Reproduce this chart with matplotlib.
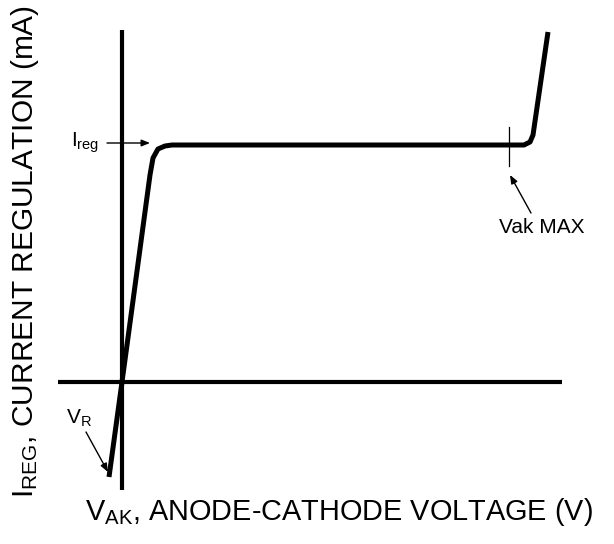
import matplotlib
matplotlib.use("Agg")
import matplotlib.pyplot as plt

plt.rcParams['font.family'] = ['Liberation Sans', 'DejaVu Sans']
plt.rcParams['mathtext.fontset'] = 'custom'
plt.rcParams['mathtext.rm'] = 'Liberation Sans'
plt.rcParams['mathtext.it'] = 'Liberation Sans'

# Characteristic curve (V_AK, I_REG) in arbitrary units
v_curve = [-1.3, 0.0, 2.8, 3.1, 3.6, 4.3, 5.0, 40.2, 40.8, 41.1, 42.6]
i_curve = [-9.5, 0.0, 20.7, 22.4, 23.3, 23.6, 23.7, 23.7, 24.0, 24.7, 35.0]

# Axis extents
v_axis = [-6.4, 44.0]
i_axis = [-10.8, 35.2]

# Markers / annotations
vak_max = 38.7
i_reg = 23.9
v_r = -1.4

fig = plt.figure(figsize=(6.14, 5.44), dpi=100)
ax = fig.add_axes([0, 0, 1, 1])
ax.set_xlim(-12.2, 49.2)
ax.set_ylim(-16.2, 38.2)
ax.axis('off')

# axes lines
ax.plot(v_axis, [0, 0], color='black', lw=3.0, solid_capstyle='butt')
ax.plot([0, 0], i_axis, color='black', lw=3.0, solid_capstyle='butt')

# curve
ax.plot(v_curve, i_curve, color='black', lw=3.6, solid_joinstyle='round',
        solid_capstyle='butt')

# Vak MAX tick
ax.plot([vak_max, vak_max], [21.6, 25.5], color='black', lw=0.9)

arrow = dict(arrowstyle='-|>,head_length=0.5,head_width=0.2', color='black', lw=1.0,
             shrinkA=0, shrinkB=0)

# I_reg label
ax.annotate('', xy=(2.8, i_reg), xytext=(-1.5, i_reg), arrowprops=arrow)
ax.text(-2.3, 23.9, r'I$_{\mathrm{reg}}$', fontsize=15, ha='right', va='center')

# Vak MAX label
ax.annotate('', xy=(vak_max + 0.1, 20.7), xytext=(40.9, 16.9), arrowprops=arrow)
ax.text(42.0, 15.5, 'Vak MAX', fontsize=15, ha='center', va='center')

# V_R label
ax.annotate('', xy=(v_r, -9.0), xytext=(-3.6, -5.0), arrowprops=arrow)
ax.text(-5.6, -3.6, r'V$_{\mathrm{R}}$', fontsize=15, ha='left', va='center')

# axis titles
ax.text(-9.7, 13.1, r'I$_{\mathrm{REG}}$, CURRENT REGULATION (mA)', fontsize=21.5,
        rotation=90, ha='center', va='center')
ax.text(21.65, -13.0, r'V$_{\mathrm{AK}}$, ANODE-CATHODE VOLTAGE (V)', fontsize=20.8,
        ha='center', va='center')

fig.savefig('out.png', dpi=100)
